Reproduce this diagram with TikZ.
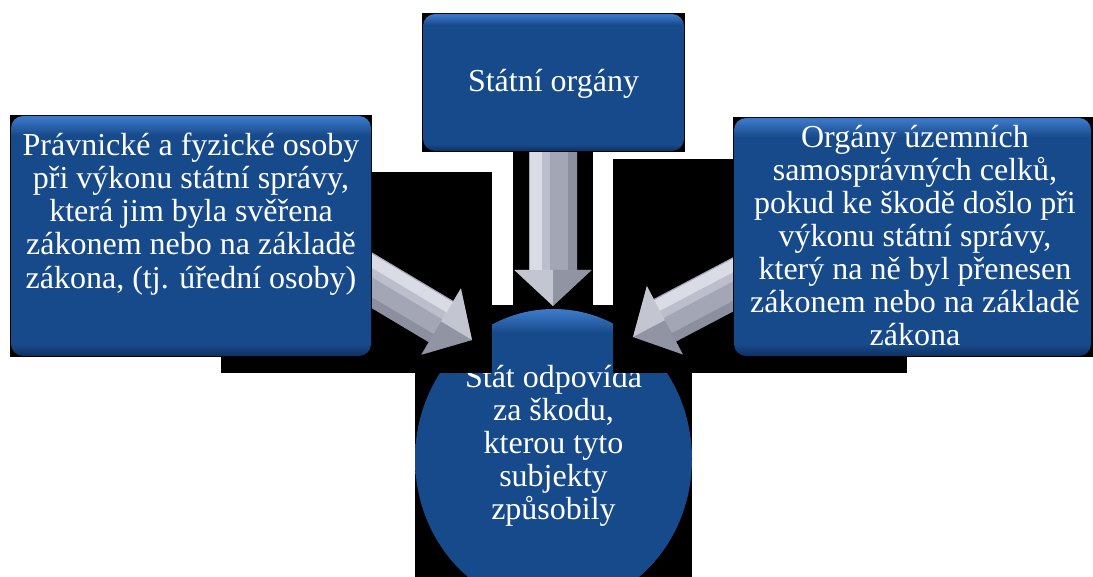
\documentclass[tikz,border=0pt]{standalone}
\usepackage{fontspec}
\setmainfont{Liberation Serif}
\usetikzlibrary{calc,shapes.geometric}

\definecolor{boxlite}{RGB}{58,118,196}
\definecolor{boxmid}{RGB}{23,74,139}
\definecolor{boxbot}{RGB}{14,48,96}
\definecolor{arrowhi}{RGB}{236,238,246}
\definecolor{arrowmid}{RGB}{163,166,180}
\definecolor{arrowdk}{RGB}{112,116,130}

% flat blue fill with a light upper rim and a dark lower rim
\pgfdeclareverticalshading{bluepanel}{100bp}{color(0bp)=(boxbot); color(25bp)=(boxbot);
  color(27.5bp)=(boxmid); color(71bp)=(boxmid); color(74.5bp)=(boxlite); color(100bp)=(boxlite)}

\tikzset{
  panel/.style={rounded corners=9pt, shading=bluepanel, draw=none, inner sep=0pt},
  disc/.style={ellipse, shading=bluepanel, draw=none, inner sep=0pt},
  backing/.style={fill=black, draw=none},
  label/.style={text=white, font=\fontsize{24}{24.8}\selectfont,
    align=center, inner sep=0pt},
}

% silver block arrow from #1 (tail) to #2 (tip);
% #3 = side that catches the light (90 or -90), #4 = the other side
\newcommand\flowarrow[4]{%
  \coordinate (hb) at ($(#2)!27pt!(#1)$);
  \fill[arrowmid] ($(#1)!18pt!#3:(#2)$) -- ($(hb)!18pt!#3:(#2)$)
    -- ($(hb)!29pt!#3:(#2)$) -- (#2) -- ($(hb)!29pt!#4:(#2)$)
    -- ($(hb)!18pt!#4:(#2)$) -- ($(#1)!18pt!#4:(#2)$) -- cycle;
  % lit band and shadowed band along the shaft
  \fill[arrowhi, opacity=0.75] ($(#1)!17pt!#3:(#2)$) -- ($(hb)!17pt!#3:(#2)$)
    -- ($(hb)!8pt!#3:(#2)$) -- ($(#1)!8pt!#3:(#2)$) -- cycle;
  \fill[arrowhi, opacity=0.35] ($(#1)!8pt!#3:(#2)$) -- ($(hb)!8pt!#3:(#2)$)
    -- ($(hb)!2pt!#3:(#2)$) -- ($(#1)!2pt!#3:(#2)$) -- cycle;
  \fill[arrowdk, opacity=0.45] ($(#1)!18pt!#4:(#2)$) -- ($(hb)!18pt!#4:(#2)$)
    -- ($(hb)!11pt!#4:(#2)$) -- ($(#1)!11pt!#4:(#2)$) -- cycle;
  % facets of the head
  \fill[arrowhi, opacity=0.45] ($(hb)!29pt!#3:(#2)$) -- (#2) -- (hb) -- cycle;
  \fill[arrowdk, opacity=0.35] ($(hb)!29pt!#4:(#2)$) -- (#2) -- (hb) -- cycle;
}

\begin{document}
\begin{tikzpicture}[x=0.75pt, y=-0.75pt]
  \useasboundingbox (0,0) rectangle (1093,577);
  \fill[white] (0,0) rectangle (1093,577);
  \clip (0,0) rectangle (1093,577);

  % central disc and its backing
  \fill[backing] (415,305) rectangle (692,600);
  \node[disc, minimum width=207.75pt, minimum height=225pt] (state) at (553.5,459) {};
  \node[label, anchor=north] (statetext) at (553.5,365)
    {Stát odpovídá\\za škodu,\\kterou tyto\\subjekty\\způsobily};

  % arrow backings
  \fill[backing] (221,172) rectangle (492,373);
  \fill[backing] (513,152) rectangle (593,305);
  \fill[backing] (613,159) rectangle (907,373);

  % arrows towards the disc
  \coordinate (dA) at (553,140);
  \coordinate (dB) at (553,306);
  \coordinate (lA) at (343,263);
  \coordinate (lB) at (472,340);
  \coordinate (rA) at (766,267);
  \coordinate (rB) at (633,337);
  \flowarrow{dA}{dB}{-90}{90}
  \flowarrow{lA}{lB}{90}{-90}
  \flowarrow{rA}{rB}{-90}{90}

  % box backings
  \fill[backing] (422,13) rectangle (685,152);
  \fill[backing] (10,115) rectangle (372,357);
  \fill[backing] (733,117) rectangle (1093,357);

  % boxes
  \node[panel, minimum width=195.75pt, minimum height=102.75pt] (top) at (553.5,82.5) {};
  \node[panel, minimum width=270pt, minimum height=180pt] (left) at (191,236) {};
  \node[panel, minimum width=267.75pt, minimum height=178.5pt] (right) at (912.5,237) {};

  \node[label, anchor=base] (toptext) at (553.5,92) {Státní orgány};
  \node[label, anchor=north] (lefttext) at (191,133)
    {Právnické a fyzické osoby\\při výkonu státní správy,\\která jim byla svěřena\\zákonem nebo na základě\\zákona, (tj. úřední osoby)};
  \node[label, anchor=north] (righttext) at (915,125)
    {Orgány územních\\samosprávných celků,\\pokud ke škodě došlo při\\výkonu státní správy,\\který na ně byl přenesen\\zákonem nebo na základě\\zákona};
\end{tikzpicture}
\end{document}
